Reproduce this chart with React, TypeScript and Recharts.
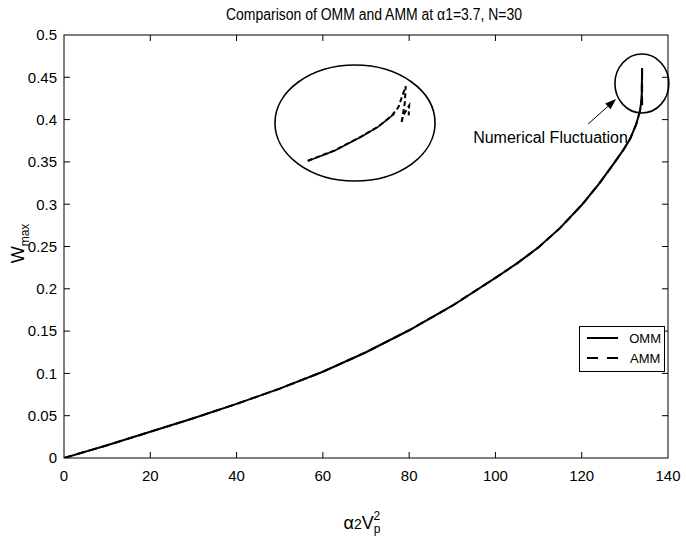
import React from 'react';
import { LineChart, Line, XAxis, YAxis, ReferenceArea, ReferenceLine, ReferenceDot, Legend } from 'recharts';

const FONT = '"Liberation Sans", Arial, Helvetica, sans-serif';
const W = 686;
const H = 545;

const titleText = 'Comparison of OMM and AMM at \u03b11=3.7, N=30';
const annotationText = 'Numerical Fluctuation';
const legendNames = ['OMM', 'AMM'];

const xDomain = [0, 140];
const yDomain = [0, 0.5];
const xTicks = [0, 20, 40, 60, 80, 100, 120, 140];
const yTicks = [0, 0.05, 0.1, 0.15, 0.2, 0.25, 0.3, 0.35, 0.4, 0.45, 0.5];
const yTickLabels = ['0', '0.05', '0.1', '0.15', '0.2', '0.25', '0.3', '0.35', '0.4', '0.45', '0.5'];

// main curves (x = alpha2 Vp^2, y = Wmax)
const ommMain = [
  { x: 0, y: 0 }, { x: 10, y: 0.015 }, { x: 20, y: 0.031 }, { x: 30, y: 0.047 }, { x: 40, y: 0.064 },
  { x: 50, y: 0.082 }, { x: 60, y: 0.102 }, { x: 70, y: 0.125 }, { x: 80, y: 0.151 }, { x: 90, y: 0.18 },
  { x: 100, y: 0.213 }, { x: 105, y: 0.23 }, { x: 110, y: 0.249 }, { x: 115, y: 0.272 }, { x: 120, y: 0.299 },
  { x: 124, y: 0.324 }, { x: 127, y: 0.345 }, { x: 129.5, y: 0.363 }, { x: 131.2, y: 0.377 }, { x: 132.6, y: 0.394 },
  { x: 133.5, y: 0.41 }, { x: 133.9, y: 0.425 }, { x: 134.0, y: 0.461 },
];
const ammMain = [
  { x: 0, y: 0 }, { x: 10, y: 0.015 }, { x: 20, y: 0.031 }, { x: 30, y: 0.047 }, { x: 40, y: 0.064 },
  { x: 50, y: 0.082 }, { x: 60, y: 0.102 }, { x: 70, y: 0.125 }, { x: 80, y: 0.151 }, { x: 90, y: 0.18 },
  { x: 100, y: 0.213 }, { x: 105, y: 0.23 }, { x: 110, y: 0.249 }, { x: 115, y: 0.272 }, { x: 120, y: 0.299 },
  { x: 124, y: 0.324 }, { x: 127, y: 0.345 }, { x: 129.5, y: 0.363 }, { x: 131.2, y: 0.377 }, { x: 132.6, y: 0.394 },
  { x: 133.5, y: 0.41 }, { x: 133.9, y: 0.425 }, { x: 134.0, y: 0.461 }, { x: 134.0, y: 0.412 },
];

// magnified inset (drawn in the chart's own coordinates)
const ommInset = [
  { x: 56.5, y: 0.351 }, { x: 62.7, y: 0.3632 }, { x: 68.9, y: 0.3797 }, { x: 72.8, y: 0.3913 },
  { x: 75.9, y: 0.404 }, { x: 76.6, y: 0.407 },
];
const ammInset = [
  { x: 56.5, y: 0.3513 }, { x: 62.7, y: 0.3635 }, { x: 68.9, y: 0.38 }, { x: 72.8, y: 0.3916 },
  { x: 75.9, y: 0.4042 }, { x: 77.5, y: 0.4146 }, { x: 79.2, y: 0.4395 }, { x: 79.0, y: 0.42 },
  { x: 78.2, y: 0.3954 }, { x: 78.6, y: 0.405 }, { x: 80.0, y: 0.4165 }, { x: 79.9, y: 0.405 },
];

// highlight ellipses: [x1, x2, y1, y2]
const insetEllipse = [48.9, 86.0, 0.3274, 0.4645];
const zoomCircle = [127.7, 140.2, 0.4078, 0.4775];
// arrow: from -> to
const arrowFrom = { x: 121.5, y: 0.3948 };
const arrowTo = { x: 127.96, y: 0.4243 };
const annotationAt = { x: 130.7, y: 0.3723 };

const FrameShape = (p: any) => {
  const { x, y, width, height } = p;
  const tl = 6;
  const xs = xTicks.slice(1, -1).map((t) => x + (width * (t - xDomain[0])) / (xDomain[1] - xDomain[0]));
  const ys = yTicks.slice(1, -1).map((t) => y + height - (height * (t - yDomain[0])) / (yDomain[1] - yDomain[0]));
  return (
    <g>
      <rect x={x} y={y} width={width} height={height} fill="none" stroke="#000" strokeWidth={1} />
      {xs.map((tx, i) => (
        <g key={'x' + i}>
          <line x1={tx} y1={y + height} x2={tx} y2={y + height - tl} stroke="#000" strokeWidth={1} />
          <line x1={tx} y1={y} x2={tx} y2={y + tl} stroke="#000" strokeWidth={1} />
        </g>
      ))}
      {ys.map((ty, i) => (
        <g key={'y' + i}>
          <line x1={x} y1={ty} x2={x + tl} y2={ty} stroke="#000" strokeWidth={1} />
          <line x1={x + width} y1={ty} x2={x + width - tl} y2={ty} stroke="#000" strokeWidth={1} />
        </g>
      ))}
      <text x={x + width / 2 + 8} y={y - 15} textAnchor="middle" fontFamily={FONT} fontSize={16}
        textLength={296} lengthAdjust="spacingAndGlyphs" fill="#000">
        {titleText}
      </text>
    </g>
  );
};

const EllipseShape = (p: any) => {
  const { x, y, width, height } = p;
  return (
    <ellipse cx={x + width / 2} cy={y + height / 2} rx={Math.abs(width) / 2} ry={Math.abs(height) / 2}
      fill="none" stroke="#000" strokeWidth={1.6} />
  );
};

const ArrowShape = (p: any) => {
  const { x1, y1, x2, y2 } = p;
  const dx = x2 - x1;
  const dy = y2 - y1;
  const L = Math.hypot(dx, dy) || 1;
  const ux = dx / L;
  const uy = dy / L;
  const hl = 11;
  const hw = 4;
  const bx = x2 - ux * hl;
  const by = y2 - uy * hl;
  return (
    <g>
      <line x1={x1} y1={y1} x2={bx} y2={by} stroke="#000" strokeWidth={1} />
      <polygon points={`${x2},${y2} ${bx - uy * hw},${by + ux * hw} ${bx + uy * hw},${by - ux * hw}`} fill="#000" />
    </g>
  );
};

const AnnotationShape = (p: any) => (
  <text x={p.cx} y={p.cy} textAnchor="end" fontFamily={FONT} fontSize={16} fill="#000">{annotationText}</text>
);

const LegendBox = () => (
  <div style={{ border: '1px solid #000', background: '#fff', padding: '1px 3px 3px 7px', fontFamily: FONT, fontSize: 13, boxSizing: 'border-box', width: 86 }}>
    {legendNames.map((n, i) => (
      <div key={n} style={{ display: 'flex', alignItems: 'center', height: 20 }}>
        <svg width={32} height={4} style={{ marginRight: 11 }}>
          <line x1={0} y1={2} x2={32} y2={2} stroke="#000" strokeWidth={2} strokeDasharray={i === 1 ? '11 9' : undefined} />
        </svg>
        <span>{n}</span>
      </div>
    ))}
  </div>
);

const XLabel = (p: any) => {
  const vb = p.viewBox || {};
  const cx = vb.x + vb.width / 2 - 4;
  return (
    <text x={cx} y={vb.y + 71} textAnchor="middle" fontFamily={FONT} fill="#000">
      <tspan fontSize={18}>{'\u03b1'}</tspan>
      <tspan fontSize={14}>2</tspan>
      <tspan fontSize={18}>V</tspan>
      <tspan fontSize={12} dy={4}>p</tspan>
      <tspan fontSize={12} dx={-7} dy={-13}>2</tspan>
    </text>
  );
};

const YLabel = (p: any) => {
  const vb = p.viewBox || {};
  const cy = vb.y + vb.height / 2 - 3;
  const x = 24;
  return (
    <text x={x} y={cy} transform={`rotate(-90, ${x}, ${cy})`} textAnchor="middle" fontFamily={FONT} fill="#000">
      <tspan fontSize={18}>W</tspan>
      <tspan fontSize={12} dy={5}>max</tspan>
    </text>
  );
};

const tickStyle = { fill: '#000', fontSize: 15, fontFamily: FONT };

export default function App() {
  return (
    <div style={{ position: 'absolute', left: 0, top: 0, width: W, height: H, background: '#fff' }}>
      <LineChart width={W} height={H} margin={{ top: 35, right: 18, bottom: 0, left: 0 }}>
        <XAxis xAxisId="b" type="number" dataKey="x" domain={xDomain} ticks={xTicks} allowDataOverflow
          orientation="bottom" height={87} axisLine={false} tickLine={false} tickSize={0} tickMargin={12} interval={0}
          tick={tickStyle} label={XLabel} />
        <YAxis yAxisId="l" type="number" domain={yDomain} ticks={yTicks} allowDataOverflow
          orientation="left" width={64} axisLine={false} tickLine={false} tickSize={0} tickMargin={7} interval={0}
          tick={tickStyle} tickFormatter={(v: number) => yTickLabels[yTicks.indexOf(v)] ?? String(v)} label={YLabel} />

        <ReferenceArea xAxisId="b" yAxisId="l" x1={xDomain[0]} x2={xDomain[1]} y1={yDomain[0]} y2={yDomain[1]}
          ifOverflow="visible" shape={FrameShape} />
        <ReferenceArea xAxisId="b" yAxisId="l" x1={insetEllipse[0]} x2={insetEllipse[1]} y1={insetEllipse[2]} y2={insetEllipse[3]}
          ifOverflow="visible" shape={EllipseShape} />
        <ReferenceArea xAxisId="b" yAxisId="l" x1={zoomCircle[0]} x2={zoomCircle[1]} y1={zoomCircle[2]} y2={zoomCircle[3]}
          ifOverflow="visible" shape={EllipseShape} />
        <ReferenceLine xAxisId="b" yAxisId="l" segment={[arrowFrom, arrowTo]} ifOverflow="visible" shape={ArrowShape} />
        <ReferenceDot xAxisId="b" yAxisId="l" x={annotationAt.x} y={annotationAt.y} r={1} ifOverflow="visible" shape={AnnotationShape} />

        <Line xAxisId="b" yAxisId="l" data={ammMain} dataKey="y" type="linear" stroke="#000" strokeWidth={2}
          strokeDasharray="8 5" dot={false} activeDot={false} isAnimationActive={false} name="AMM" />
        <Line xAxisId="b" yAxisId="l" data={ommMain} dataKey="y" type="linear" stroke="#000" strokeWidth={2}
          dot={false} activeDot={false} isAnimationActive={false} name="OMM" />
        <Line xAxisId="b" yAxisId="l" data={ammInset} dataKey="y" type="linear" stroke="#000" strokeWidth={2}
          strokeDasharray="5 3" dot={false} activeDot={false} isAnimationActive={false} legendType="none" />
        <Line xAxisId="b" yAxisId="l" data={ommInset} dataKey="y" type="linear" stroke="#000" strokeWidth={1.6}
          dot={false} activeDot={false} isAnimationActive={false} legendType="none" />

        <Legend layout="horizontal" verticalAlign="middle" align="center" content={LegendBox}
          wrapperStyle={{ position: 'absolute', left: 579, top: 326, width: 'auto', height: 'auto' }} />
      </LineChart>
    </div>
  );
}
